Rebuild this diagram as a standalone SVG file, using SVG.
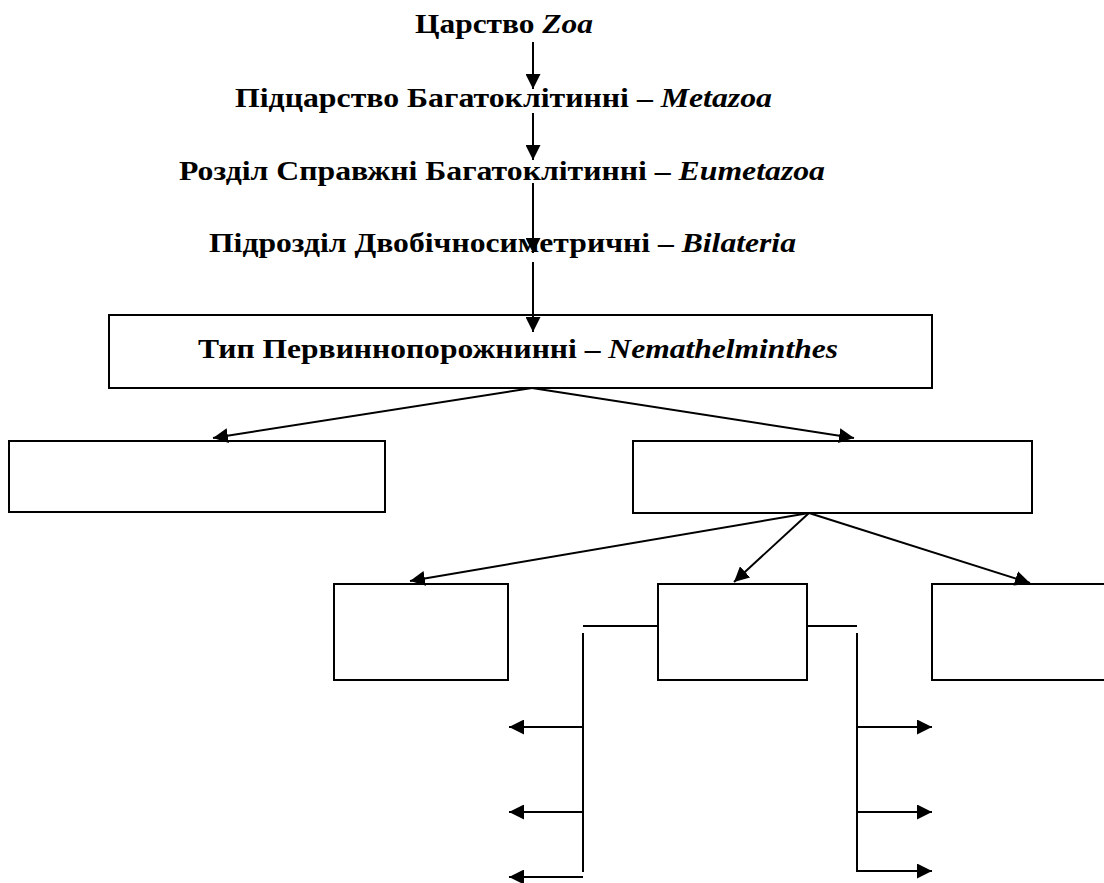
<svg xmlns="http://www.w3.org/2000/svg" width="1104" height="883" viewBox="0 0 1104 883">
<defs>
<marker id="ah" viewBox="0 0 10 10" refX="10" refY="5" markerWidth="8" markerHeight="8" markerUnits="userSpaceOnUse" orient="auto">
<path d="M0,0 L10,5 L0,10 Z" fill="#000"/>
</marker>
<marker id="ahb" viewBox="0 0 10 10" refX="10" refY="5" markerWidth="15" markerHeight="15" markerUnits="userSpaceOnUse" orient="auto">
<path d="M0,0 L10,5 L0,10 Z" fill="#000"/>
</marker>
</defs>
<style>
.t{font-family:"Liberation Serif","Times New Roman",serif;font-weight:bold;font-size:27px;fill:#000}
.i{font-style:italic}
.box{fill:#fff;stroke:#000;stroke-width:2}
.c{stroke:#000;stroke-width:2;fill:none}
.a{stroke:#000;stroke-width:2;fill:none;marker-end:url(#ahb)}
</style>
<rect width="1104" height="883" fill="#fff"/>
<g id="title1"><text class="t" x="415" y="33" textLength="178" lengthAdjust="spacingAndGlyphs">Царство <tspan class="i">Zoa</tspan></text></g>
<g id="title2"><text class="t" x="235" y="107" textLength="537" lengthAdjust="spacingAndGlyphs">Підцарство Багатоклітинні – <tspan class="i">Metazoa</tspan></text></g>
<g id="title3"><text class="t" x="179" y="180" textLength="646" lengthAdjust="spacingAndGlyphs">Розділ Справжні Багатоклітинні – <tspan class="i">Eumetazoa</tspan></text></g>
<g id="title4"><text class="t" x="209" y="252" textLength="587" lengthAdjust="spacingAndGlyphs">Підрозділ Двобічносиметричні – <tspan class="i">Bilateria</tspan></text></g>
<g id="type"><rect class="box" x="109" y="315" width="823" height="73"/>
<text class="t" x="198" y="358" textLength="640" lengthAdjust="spacingAndGlyphs">Тип Первиннопорожнинні – <tspan class="i">Nemathelminthes</tspan></text></g>
<g id="boxL"><rect class="box" x="9" y="441" width="376" height="71"/></g>
<g id="boxR"><rect class="box" x="633" y="441" width="399" height="72"/></g>
<g id="boxA"><rect class="box" x="334" y="584" width="174" height="96"/></g>
<g id="boxB"><rect class="box" x="658" y="584" width="149" height="96"/></g>
<g id="boxC"><rect class="box" x="932" y="584" width="180" height="96"/></g>
<g id="connectors">
<line class="a" x1="533" y1="42" x2="533" y2="89"/>
<line class="a" x1="533" y1="113" x2="533" y2="160"/>
<line class="a" x1="533" y1="183" x2="533" y2="253"/>
<line class="a" x1="533" y1="262" x2="533" y2="332"/>
<line class="a" x1="532" y1="388" x2="213" y2="438"/>
<line class="a" x1="532" y1="388" x2="854" y2="438"/>
<line class="a" x1="809" y1="513" x2="410" y2="581"/>
<line class="a" x1="809" y1="513" x2="734" y2="582"/>
<line class="a" x1="809" y1="513" x2="1030" y2="583"/>
<line class="c" x1="583" y1="626" x2="658" y2="626"/>
<line class="c" x1="807" y1="626" x2="857" y2="626"/>
<line class="c" x1="583" y1="633" x2="583" y2="872"/>
<line class="c" x1="857" y1="633" x2="857" y2="872"/>
<line class="a" x1="583" y1="727" x2="509" y2="727"/>
<line class="a" x1="583" y1="812" x2="509" y2="812"/>
<line class="a" x1="583" y1="877" x2="509" y2="877"/>
<line class="a" x1="857" y1="727" x2="932" y2="727"/>
<line class="a" x1="857" y1="812" x2="932" y2="812"/>
<line class="a" x1="856" y1="871" x2="932" y2="871"/>
</g>
</svg>
